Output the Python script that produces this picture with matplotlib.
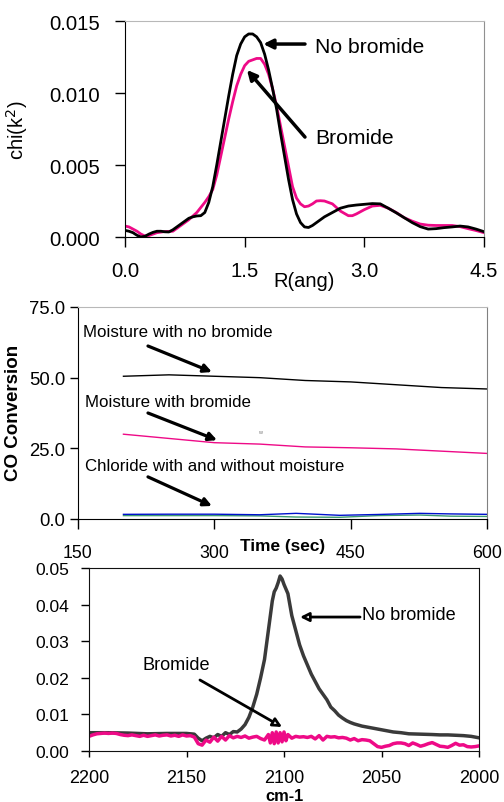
import matplotlib
matplotlib.use("Agg")
import matplotlib.pyplot as plt

plt.rcParams['font.family'] = ['Liberation Sans', 'DejaVu Sans']

# ---------------- Panel 1 data (EXAFS) ----------------
r_nobr = [0.0, 0.05, 0.1, 0.15, 0.2, 0.25, 0.3, 0.35, 0.4, 0.45, 0.5, 0.55, 0.6, 0.65, 0.7,
          0.75, 0.8, 0.85, 0.9, 0.95, 1.0, 1.05, 1.1, 1.15, 1.2, 1.25, 1.3, 1.35, 1.4, 1.45,
          1.5, 1.55, 1.6, 1.65, 1.7, 1.75, 1.8, 1.85, 1.9, 1.95, 2.0, 2.05, 2.1, 2.15, 2.2,
          2.25, 2.3, 2.35, 2.4, 2.5, 2.6, 2.7, 2.8, 2.9, 3.0, 3.1, 3.2, 3.3, 3.4, 3.5, 3.6,
          3.7, 3.8, 3.9, 4.0, 4.1, 4.2, 4.3, 4.4, 4.5]
chi_nobr = [0.00046, 0.00040, 0.00030, 0.00012, 0.00000, 0.00005, 0.00020, 0.00032, 0.00040,
            0.00040, 0.00036, 0.00035, 0.00050, 0.00070, 0.00090, 0.00110, 0.00130, 0.00140,
            0.00146, 0.00148, 0.00170, 0.00240, 0.00350, 0.00500, 0.00660, 0.00820, 0.00980,
            0.01130, 0.01260, 0.01340, 0.01390, 0.01410, 0.01410, 0.01390, 0.01350, 0.01270,
            0.01160, 0.01030, 0.00890, 0.00720, 0.00560, 0.00400, 0.00260, 0.00160, 0.00100,
            0.00070, 0.00066, 0.00080, 0.00100, 0.00140, 0.00170, 0.00200, 0.00215, 0.00222,
            0.00227, 0.00232, 0.00230, 0.00200, 0.00168, 0.00134, 0.00100, 0.00072, 0.00055,
            0.00058, 0.00065, 0.00070, 0.00076, 0.00070, 0.00055, 0.00037]
r_br = [0.0, 0.05, 0.1, 0.15, 0.2, 0.25, 0.3, 0.35, 0.4, 0.5, 0.6, 0.7, 0.8, 0.9, 1.0, 1.05,
        1.1, 1.15, 1.2, 1.25, 1.3, 1.35, 1.4, 1.45, 1.5, 1.55, 1.6, 1.65, 1.7, 1.75, 1.8, 1.85,
        1.9, 1.95, 2.0, 2.05, 2.1, 2.15, 2.2, 2.25, 2.3, 2.35, 2.4, 2.45, 2.5, 2.6, 2.7, 2.8,
        2.85, 2.9, 3.0, 3.1, 3.2, 3.3, 3.4, 3.5, 3.6, 3.7, 3.8, 3.9, 4.0, 4.1, 4.2, 4.3, 4.4,
        4.5]
chi_br = [0.00076, 0.00070, 0.00055, 0.00040, 0.00020, 0.00007, 0.00010, 0.00020, 0.00030,
          0.00038, 0.00040, 0.00080, 0.00120, 0.00170, 0.00240, 0.00280, 0.00330, 0.00430,
          0.00560, 0.00690, 0.00820, 0.00940, 0.01050, 0.01130, 0.01190, 0.01220, 0.01230,
          0.01240, 0.01240, 0.01200, 0.01130, 0.01030, 0.00910, 0.00770, 0.00630, 0.00490,
          0.00350, 0.00270, 0.00230, 0.00210, 0.00215, 0.00230, 0.00250, 0.00252, 0.00250,
          0.00230, 0.00180, 0.00148, 0.00148, 0.00160, 0.00190, 0.00215, 0.00220, 0.00200,
          0.00170, 0.00134, 0.00110, 0.00090, 0.00082, 0.00080, 0.00080, 0.00080, 0.00072,
          0.00058, 0.00045, 0.00030]

# ---------------- Panel 2 data (CO conversion) ----------------
time_s = [200, 250, 300, 350, 400, 450, 500, 550, 600]
moist_nobr = [50.5, 51.0, 50.5, 50.0, 49.0, 48.5, 47.5, 46.5, 46.0]
moist_br = [30.0, 28.5, 27.0, 26.5, 25.5, 25.2, 24.8, 24.0, 23.2]
time_cl = [200, 250, 300, 350, 390, 438, 480, 526, 560, 600]
chl_a = [1.65, 1.7, 1.7, 1.5, 2.0, 1.3, 1.6, 2.0, 1.8, 1.65]
chl_b = [1.2, 1.2, 1.2, 1.1, 0.7, 0.6, 1.2, 1.4, 1.0, 0.9]

# ---------------- Panel 3 data (IR spectra) ----------------
wn_nobr = [2200, 2190, 2180, 2170, 2160, 2150, 2146, 2144, 2142, 2140, 2138, 2136, 2134, 2132,
           2130, 2128, 2126, 2124, 2122, 2120, 2118, 2116, 2114, 2112, 2110, 2108, 2107, 2106,
           2105, 2104, 2103, 2102, 2101, 2100, 2098, 2096, 2094, 2092, 2090, 2088, 2086, 2084,
           2082, 2080, 2078, 2076, 2074, 2072, 2070, 2068, 2066, 2064, 2062, 2060, 2056, 2052,
           2048, 2044, 2040, 2036, 2030, 2024, 2020, 2016, 2012, 2008, 2004, 2000]
abs_nobr = [0.0050, 0.0050, 0.0049, 0.0047, 0.0048, 0.0048, 0.0046, 0.0035, 0.0028, 0.0035,
            0.0040, 0.0036, 0.0045, 0.0040, 0.0050, 0.0045, 0.0053, 0.0052, 0.0060, 0.0072,
            0.0092, 0.0120, 0.0155, 0.0200, 0.0250, 0.0330, 0.0370, 0.0410, 0.0435, 0.0445,
            0.0460, 0.0478, 0.0470, 0.0455, 0.0430, 0.0370, 0.0330, 0.0290, 0.0260, 0.0235,
            0.0210, 0.0190, 0.0170, 0.0155, 0.0140, 0.0120, 0.0110, 0.0098, 0.0090, 0.0083,
            0.0078, 0.0074, 0.0071, 0.0068, 0.0064, 0.0060, 0.0056, 0.0052, 0.0050, 0.0047,
            0.0046, 0.0045, 0.0044, 0.0044, 0.0043, 0.0042, 0.0040, 0.0036]
wn_br = [2200, 2198, 2196, 2194, 2192, 2190, 2188, 2186, 2184, 2182, 2180, 2178, 2176, 2174,
         2172, 2170, 2168, 2166, 2164, 2162, 2160, 2158, 2156, 2154, 2152, 2150, 2148, 2146,
         2144, 2142, 2140, 2138, 2136, 2134, 2132, 2130, 2128, 2126, 2124, 2122, 2120, 2118,
         2116, 2114, 2112, 2110, 2108, 2107, 2106, 2105, 2104, 2103, 2102, 2101, 2100, 2099,
         2098, 2096, 2094, 2092, 2090, 2088, 2086, 2084, 2082, 2080, 2078, 2076, 2074, 2072,
         2070, 2068, 2066, 2064, 2062, 2060, 2058, 2056, 2054, 2052, 2050, 2048, 2046, 2044,
         2042, 2040, 2038, 2036, 2034, 2032, 2030, 2028, 2026, 2024, 2022, 2020, 2018, 2016,
         2014, 2012, 2010, 2008, 2006, 2004, 2002, 2000]
abs_br = [0.0040, 0.0044, 0.0047, 0.0048, 0.0049, 0.0048, 0.0049, 0.0048, 0.0045, 0.0043,
          0.0042, 0.0044, 0.0042, 0.0040, 0.0043, 0.0040, 0.0042, 0.0044, 0.0041, 0.0043,
          0.0044, 0.0041, 0.0043, 0.0040, 0.0044, 0.0041, 0.0042, 0.0038, 0.0020, 0.0016,
          0.0030, 0.0024, 0.0038, 0.0027, 0.0040, 0.0030, 0.0042, 0.0036, 0.0040, 0.0037,
          0.0041, 0.0035, 0.0038, 0.0040, 0.0034, 0.0030, 0.0045, 0.0022, 0.0050, 0.0020,
          0.0052, 0.0022, 0.0050, 0.0025, 0.0052, 0.0028, 0.0045, 0.0035, 0.0040, 0.0038,
          0.0039, 0.0037, 0.0040, 0.0033, 0.0042, 0.0030, 0.0040, 0.0038, 0.0039, 0.0036,
          0.0037, 0.0035, 0.0030, 0.0034, 0.0028, 0.0031, 0.0030, 0.0028, 0.0020, 0.0012,
          0.0010, 0.0013, 0.0015, 0.0020, 0.0022, 0.0022, 0.0020, 0.0015, 0.0022, 0.0018,
          0.0013, 0.0016, 0.0020, 0.0023, 0.0018, 0.0013, 0.0012, 0.0010, 0.0015, 0.0021,
          0.0016, 0.0017, 0.0012, 0.0011, 0.0012, 0.0014]

PINK = '#EE0A87'
W, H = 504, 803
fig = plt.figure(figsize=(W / 100, H / 100), dpi=100)


def ax_px(l, t, r, b):
    return fig.add_axes([l / W, 1 - b / H, (r - l) / W, (b - t) / H])


# ================= Panel 1 =================
ax1 = ax_px(125, 22, 484, 238)
ax1.plot(r_br, chi_br, color=PINK, lw=2.0, solid_joinstyle='round')
ax1.plot(r_nobr, chi_nobr, color='black', lw=2.0, solid_joinstyle='round')
ax1.set_xlim(0, 4.5)
ax1.set_ylim(0, 0.015)
ax1.set_xticks([0.0, 1.5, 3.0, 4.5])
ax1.set_xticklabels(['0.0', '1.5', '3.0', '4.5'])
ax1.set_yticks([0.0, 0.005, 0.010, 0.015])
ax1.set_yticklabels(['0.000', '0.005', '0.010', '0.015'])
ax1.tick_params(axis='x', direction='out', length=7, width=1, pad=10, labelsize=14.7)
ax1.tick_params(axis='y', direction='out', length=7, width=1, pad=11, labelsize=14.7)
ax1.spines['top'].set_color('#b8b8b8')
ax1.spines['right'].set_color('#909090')
ax1.set_xlabel('R(ang)', fontsize=14.5, labelpad=-6)
ax1.set_ylabel('chi(k$^2$)', fontsize=14.5)
ax1.yaxis.set_label_coords(-0.265, 0.5)
ax1.annotate('', xy=(1.733, 0.0134), xytext=(2.256, 0.0134),
             arrowprops=dict(arrowstyle='-|>', color='black', lw=2.5, mutation_scale=14,
                             shrinkA=0, shrinkB=0))
ax1.annotate('', xy=(1.529, 0.0116), xytext=(2.256, 0.00694),
             arrowprops=dict(arrowstyle='-|>', color='black', lw=2.5, mutation_scale=14,
                             shrinkA=0, shrinkB=0))
ax1.text(2.38, 0.0132, 'No bromide', fontsize=15.2, va='center', ha='left')
ax1.text(2.38, 0.00694, 'Bromide', fontsize=15.2, va='center', ha='left')

# ================= Panel 2 =================
ax2 = ax_px(78, 308, 487, 520)
ax2.plot(time_s, moist_nobr, color='black', lw=1.0)
ax2.plot(time_s, moist_br, color=PINK, lw=1.0)
ax2.plot(time_cl, chl_b, color='#3a9a70', lw=1.0)
ax2.plot(time_cl, chl_a, color='#0010cc', lw=1.0)
ax2.set_xlim(150, 600)
ax2.set_ylim(0, 75)
ax2.set_xticks([150, 300, 450, 600])
ax2.set_yticks([0, 25, 50, 75])
ax2.set_yticklabels(['0.0', '25.0', '50.0', '75.0'])
ax2.tick_params(axis='x', direction='out', length=7, width=1, pad=11, labelsize=12.8)
ax2.tick_params(axis='y', direction='out', length=6, width=1, pad=3, labelsize=13.3)
ax2.spines['top'].set_color('#b8b8b8')
ax2.spines['right'].set_color('#808080')
ax2.text(0.5, -0.125, 'Time (sec)', transform=ax2.transAxes, fontsize=12.4,
         fontweight='bold', ha='center', va='center')
ax2.set_ylabel('CO Conversion', fontsize=13.5, fontweight='bold')
ax2.yaxis.set_label_coords(-0.137, 0.505)
for (x0, y0, x1, y1) in [(227, 61.2, 297.4, 52.0), (227, 37.5, 303, 27.9), (227, 14.9, 297.4, 4.6)]:
    ax2.annotate('', xy=(x1, y1), xytext=(x0, y0),
                 arrowprops=dict(arrowstyle='-|>', color='black', lw=2.3, mutation_scale=12,
                                 shrinkA=0, shrinkB=0))
ax2.text(155.5, 66.2, 'Moisture with no bromide', fontsize=12.2, va='center', ha='left')
ax2.text(157.7, 41.4, 'Moisture with bromide', fontsize=12.2, va='center', ha='left')
ax2.text(157.7, 18.75, 'Chloride with and without moisture', fontsize=12.2, va='center', ha='left')
ax2.text(350, 30.8, 'w', fontsize=4, color='#777777', ha='center', va='center')

# ================= Panel 3 =================
ax3 = ax_px(89, 569, 479, 752)
ax3.plot(wn_nobr, abs_nobr, color='#3a3a3a', lw=2.5, solid_joinstyle='round')
ax3.plot(wn_br, abs_br, color=PINK, lw=2.5, solid_joinstyle='round')
ax3.set_xlim(2200, 2000)
ax3.set_ylim(0, 0.05)
ax3.set_xticks([2200, 2150, 2100, 2050, 2000])
ax3.set_yticks([0.0, 0.01, 0.02, 0.03, 0.04, 0.05])
ax3.set_yticklabels(['0.00', '0.01', '0.02', '0.03', '0.04', '0.05'])
ax3.tick_params(axis='x', direction='out', length=4, width=1, pad=9, labelsize=13)
ax3.tick_params(axis='y', direction='out', length=6, width=1, pad=8, labelsize=12.6)
for s in ax3.spines.values():
    s.set_color('#111111')
ax3.text(0.5, -0.245, 'cm-1', transform=ax3.transAxes, fontsize=11.8,
         fontweight='bold', ha='center', va='center')
ax3.annotate('', xy=(2091.8, 0.0366), xytext=(2061, 0.0366),
             arrowprops=dict(arrowstyle='-|>', fc='white', ec='black', lw=2.0,
                             mutation_scale=13, shrinkA=0, shrinkB=0))
ax3.annotate('', xy=(2101, 0.00656), xytext=(2143.1, 0.0194),
             arrowprops=dict(arrowstyle='-|>', fc='white', ec='black', lw=2.0,
                             mutation_scale=13, shrinkA=0, shrinkB=0))
ax3.text(2060, 0.0372, 'No bromide', fontsize=13.1, va='center', ha='left')
ax3.text(2172.8, 0.0235, 'Bromide', fontsize=13.1, va='center', ha='left')

fig.savefig('out.png', dpi=100)
